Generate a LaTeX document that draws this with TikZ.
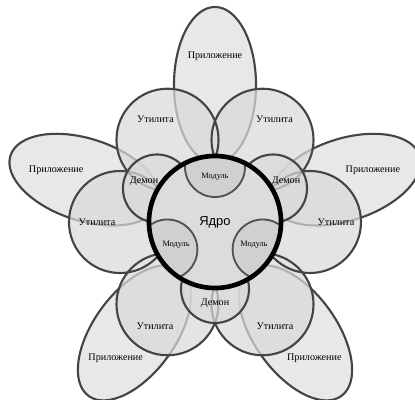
\documentclass[tikz,border=0pt]{standalone}
\usepackage{fontspec}
\setmainfont{Liberation Serif}
\newfontfamily\kernelfont{Liberation Sans}
\usetikzlibrary{shapes.geometric}
\definecolor{petalfill}{HTML}{E8E8E8}
\definecolor{ringfill}{HTML}{DADADA}
\definecolor{corefill}{HTML}{DCDCDC}
\definecolor{modfill}{HTML}{D0D0D0}
\definecolor{petalline}{HTML}{444444}
\definecolor{modline}{HTML}{505050}

\begin{document}
\begin{tikzpicture}[
  x=0.025cm, y=0.025cm,
  font=\fontsize{7.2}{8}\selectfont,
  app/.style={ellipse, draw=petalline, line width=1.5pt, fill=petalfill, minimum width=3.9cm, minimum height=2.05cm, inner sep=0pt, outer sep=0pt},
  util/.style={circle, fill=ringfill, minimum size=2.55cm, inner sep=0pt, outer sep=0pt},
  daemon/.style={circle, fill=ringfill, minimum size=1.7cm, inner sep=0pt, outer sep=0pt},
  ring/.style={draw=petalline, line width=1.5pt},
  corecirc/.style={circle, fill=corefill, minimum size=3.3cm, inner sep=0pt, outer sep=0pt},
  modcirc/.style={circle, draw=modline, line width=1.3pt, fill=modfill, minimum size=1.5cm, inner sep=0pt, outer sep=0pt},
  lbl/.style={inner sep=0pt},
  modlbl/.style={inner sep=0pt, font=\fontsize{5.9}{7}\selectfont}
]
\useasboundingbox (-215,-178) rectangle (200,222);

\node[app, rotate=90] (appN) at (90:137) {};
\node[app, rotate=162] (appW) at (162:137) {};
\node[app, rotate=18] (appE) at (18:137) {};
\node[app, rotate=234] (appSW) at (234:137) {};
\node[app, rotate=306] (appSE) at (306:137) {};

\begin{scope}[transparency group, opacity=0.72]
\node[util] (utilE) at (0:95) {};
\node[util] (utilNE) at (60:95) {};
\node[util] (utilNW) at (120:95) {};
\node[util] (utilW) at (180:95) {};
\node[util] (utilSW) at (240:95) {};
\node[util] (utilSE) at (300:95) {};
\end{scope}
\draw[ring] (utilE) circle[radius=1.275cm];
\draw[ring] (utilNE) circle[radius=1.275cm];
\draw[ring] (utilNW) circle[radius=1.275cm];
\draw[ring] (utilW) circle[radius=1.275cm];
\draw[ring] (utilSW) circle[radius=1.275cm];
\draw[ring] (utilSE) circle[radius=1.275cm];

\begin{scope}[transparency group, opacity=0.72]
\node[daemon] (dmnNE) at (30:67) {};
\node[daemon] (dmnNW) at (150:67) {};
\node[daemon] (dmnS) at (270:67) {};
\end{scope}
\draw[ring] (dmnNE) circle[radius=0.85cm];
\draw[ring] (dmnNW) circle[radius=0.85cm];
\draw[ring] (dmnS) circle[radius=0.85cm];

\node[corecirc] (core) at (0,0) {};
\begin{scope}
\clip (core) circle[radius=1.65cm];
\node[modcirc] (modN) at (90:55) {};
\node[modcirc] (modSW) at (210:55) {};
\node[modcirc] (modSE) at (330:55) {};
\end{scope}
\draw[line width=3.3pt] (core) circle[radius=1.65cm];
\node[lbl, font=\kernelfont\fontsize{9.2}{11}\selectfont] (kernel) at (core) {Ядро};

\node[lbl] (appNtxt) at (90:166) {Приложение};
\node[lbl] (appWtxt) at (162:167) {Приложение};
\node[lbl] (appEtxt) at (18:166) {Приложение};
\node[lbl] (appSWtxt) at (234:169) {Приложение};
\node[lbl] (appSEtxt) at (306:169) {Приложение};

\node[lbl] (utilEtxt) at (0:121) {Утилита};
\node[lbl] (utilNEtxt) at (60:119) {Утилита};
\node[lbl] (utilNWtxt) at (120:119) {Утилита};
\node[lbl] (utilWtxt) at (180:118) {Утилита};
\node[lbl] (utilSWtxt) at (240:120) {Утилита};
\node[lbl] (utilSEtxt) at (300:120) {Утилита};

\node[lbl] (dmnNEtxt) at (30:82) {Демон};
\node[lbl] (dmnNWtxt) at (150:82) {Демон};
\node[lbl] (dmnStxt) at (270:81) {Демон};

\node[modlbl] (modNtxt) at (90:45) {Модуль};
\node[modlbl] (modSWtxt) at (210:45) {Модуль};
\node[modlbl] (modSEtxt) at (330:45) {Модуль};
\end{tikzpicture}
\end{document}
